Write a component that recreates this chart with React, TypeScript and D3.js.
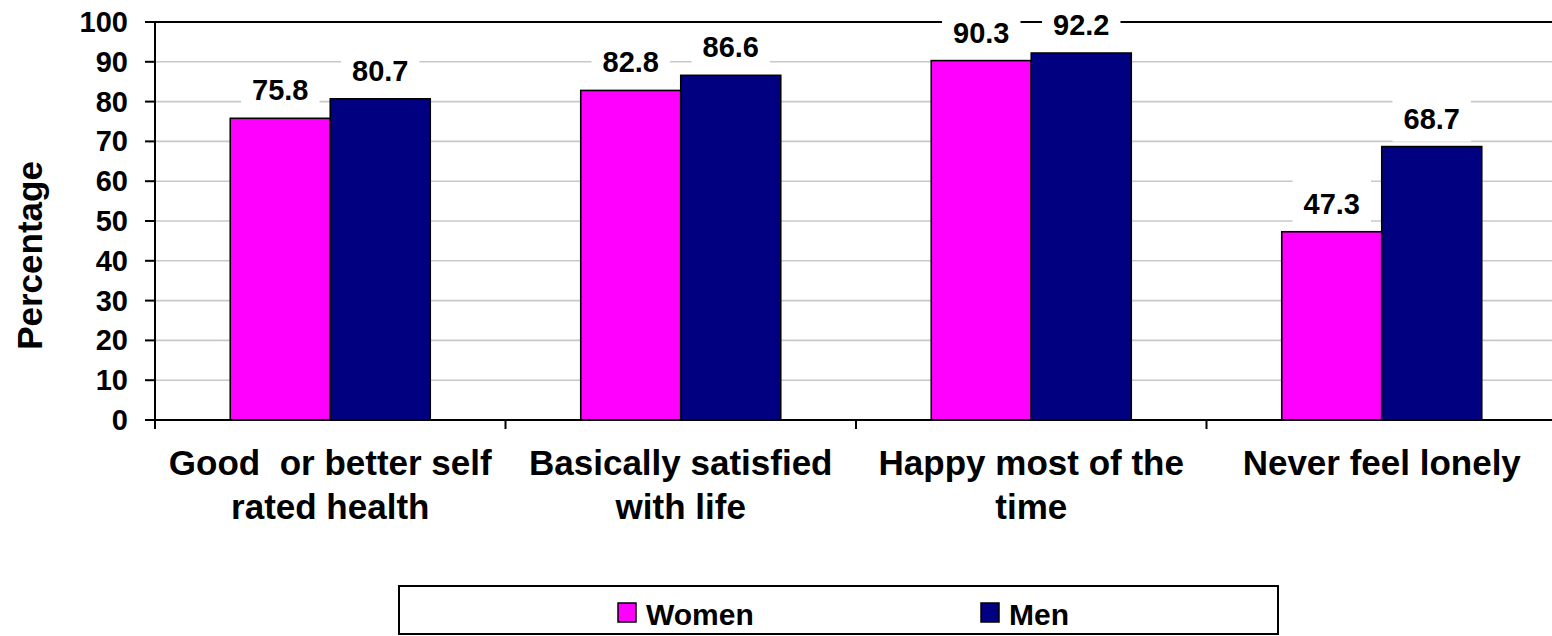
import React from "react";
import * as d3 from "d3";

const categories = [
  ["Good  or better self", "rated health"],
  ["Basically satisfied", "with life"],
  ["Happy most of the", "time"],
  ["Never feel lonely"],
];
const seriesNames = ["Women", "Men"];
const women = [75.8, 82.8, 90.3, 47.3];
const men = [80.7, 86.6, 92.2, 68.7];
const yTicks = [0, 10, 20, 30, 40, 50, 60, 70, 80, 90, 100];

const colors: Record<string, string> = { Women: "#ff00ff", Men: "#000080" };
const FONT = "'Liberation Sans', Arial, Helvetica, sans-serif";

const W = 1552;
const H = 636;
const plot = { left: 155, right: 1557, top: 22, bottom: 420 };

export default function App() {
  const catIdx = categories.map((_, i) => String(i));
  const x0 = d3.scaleBand<string>().domain(catIdx).range([plot.left, plot.right]).padding(0);
  const band = x0.bandwidth();
  const x1 = d3
    .scaleBand<string>()
    .domain(seriesNames)
    .range([0, band])
    .paddingInner(0)
    .paddingOuter(0.7525);
  const y = d3.scaleLinear().domain([0, 100]).range([plot.bottom, plot.top]);

  const values: Record<string, number[]> = { Women: women, Men: men };

  const bars: { key: string; x: number; w: number; v: number; s: string }[] = [];
  catIdx.forEach((c, i) => {
    seriesNames.forEach((s) => {
      bars.push({ key: c + s, x: (x0(c) as number) + (x1(s) as number), w: x1.bandwidth(), v: values[s][i], s });
    });
  });

  const labelFont = 29;
  const charW = (t: string) =>
    [...t].reduce((a, ch) => a + (ch === "." ? 0.278 : 0.556), 0) * labelFont;

  return (
    <svg
      width={W}
      height={H}
      style={{ position: "fixed", left: 0, top: 0, background: "#fff" }}
      fontFamily={FONT}
    >
      <rect x={0} y={0} width={W} height={H} fill="#fff" />
      {/* gridlines */}
      {yTicks.slice(1, -1).map((t) => (
        <line key={"g" + t} x1={plot.left} x2={plot.right} y1={y(t)} y2={y(t)} stroke="#c8c8c8" strokeWidth={1.6} />
      ))}
      {/* plot frame top */}
      <line x1={plot.left} x2={plot.right} y1={y(100)} y2={y(100)} stroke="#000" strokeWidth={2} />

      {/* bars */}
      {bars.map((b) => (
        <rect
          key={b.key}
          x={b.x}
          y={y(b.v)}
          width={b.w}
          height={y(0) - y(b.v)}
          fill={colors[b.s]}
          stroke="#000"
          strokeWidth={1.6}
        />
      ))}

      {/* axes */}
      <line x1={plot.left} x2={plot.left} y1={plot.top} y2={plot.bottom + 9} stroke="#000" strokeWidth={2} />
      <line x1={plot.left - 10} x2={plot.right} y1={plot.bottom} y2={plot.bottom} stroke="#000" strokeWidth={2} />
      {yTicks.map((t) => (
        <g key={"t" + t}>
          <line x1={plot.left - 10} x2={plot.left} y1={y(t)} y2={y(t)} stroke="#000" strokeWidth={2} />
          <text x={128} y={y(t) + 10} textAnchor="end" fontSize={29} fontWeight="bold" fill="#000">
            {t}
          </text>
        </g>
      ))}
      {catIdx.map((c) => (
        <line
          key={"ct" + c}
          x1={(x0(c) as number) + band}
          x2={(x0(c) as number) + band}
          y1={plot.bottom}
          y2={plot.bottom + 9}
          stroke="#000"
          strokeWidth={2}
        />
      ))}

      {/* category labels */}
      {categories.map((lines, i) => {
        const cx = (x0(String(i)) as number) + band / 2;
        return (
          <text key={"cl" + i} textAnchor="middle" fontSize={35} fontWeight="bold" fill="#000" style={{ whiteSpace: "pre" }}>
            {lines.map((ln, j) => (
              <tspan key={j} x={cx} y={475 + j * 44}>
                {ln}
              </tspan>
            ))}
          </text>
        );
      })}

      {/* value labels with white backing */}
      {bars.map((b) => {
        const cx = b.x + b.w / 2;
        const base = y(b.v) - 18;
        const txt = b.v.toFixed(1);
        const tw = charW(txt);
        return (
          <g key={"vl" + b.key}>
            <rect x={cx - tw / 2 - 11} y={base - 34} width={tw + 22} height={47} fill="#fff" />
            <text x={cx} y={base} textAnchor="middle" fontSize={labelFont} fontWeight="bold" fill="#000">
              {txt}
            </text>
          </g>
        );
      })}

      {/* y axis title */}
      <text
        transform={`translate(42, 255.5) rotate(-90)`}
        textAnchor="middle"
        fontSize={35}
        fontWeight="bold"
        fill="#000"
      >
        Percentage
      </text>

      {/* legend */}
      <rect x={399} y={586} width={879} height={48} fill="#fff" stroke="#000" strokeWidth={2} />
      {seriesNames.map((s, i) => {
        const sx = [618, 981][i];
        return (
          <g key={"lg" + s}>
            <rect x={sx} y={603} width={18} height={19} fill={colors[s]} stroke="#000" strokeWidth={1.5} />
            <text x={sx + 28} y={625} fontSize={30} fontWeight="bold" fill="#000">
              {s}
            </text>
          </g>
        );
      })}
    </svg>
  );
}
